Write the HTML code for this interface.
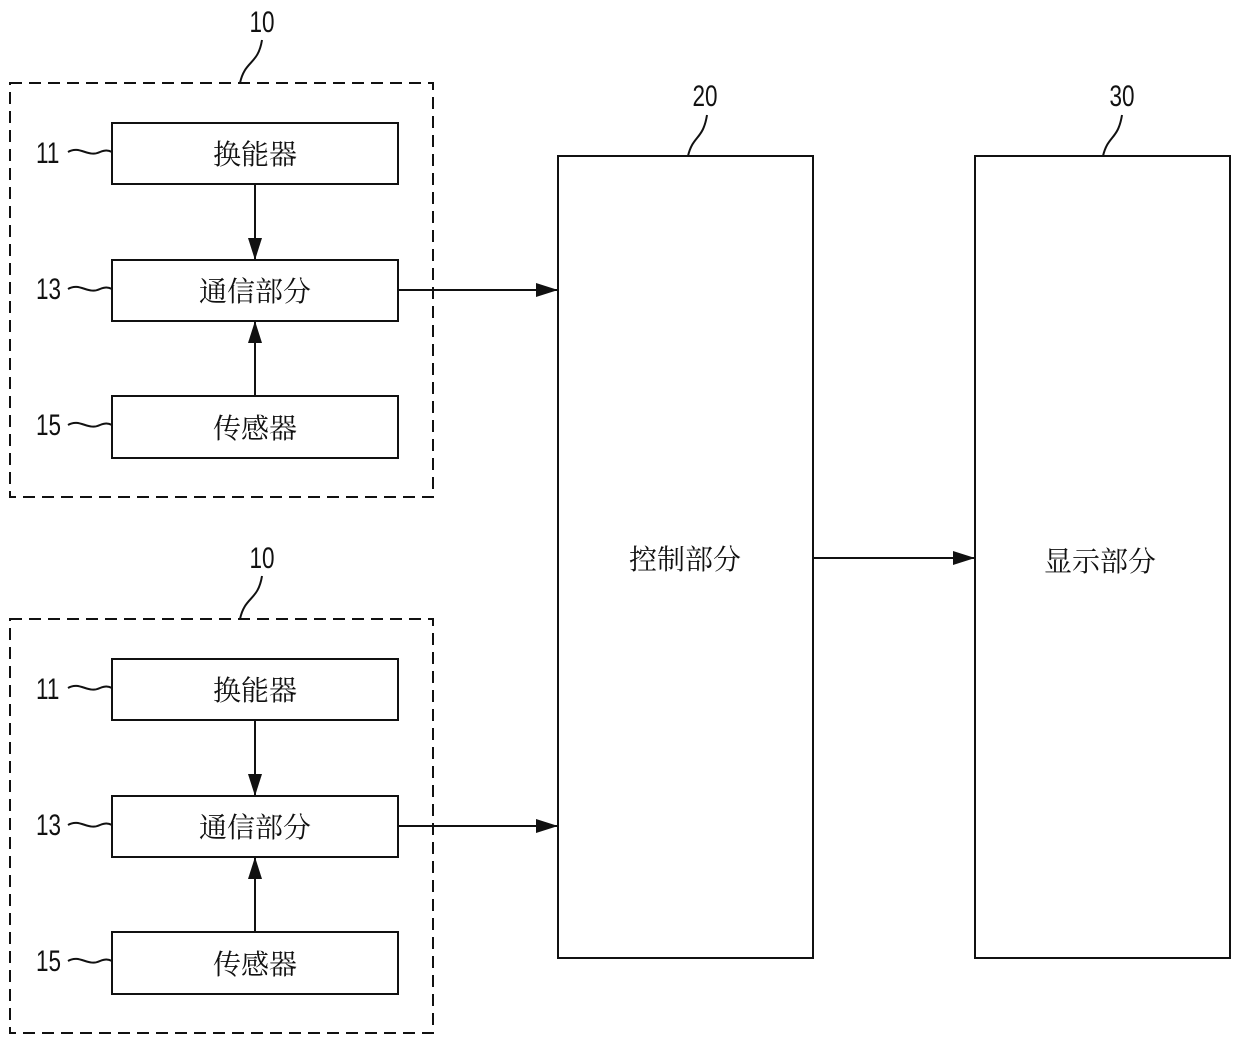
<!DOCTYPE html>
<html><head><meta charset="utf-8"><style>
html,body{margin:0;padding:0;background:#fff;}
svg text{font-family:"Liberation Sans","Noto Sans CJK SC",sans-serif;fill:#111;}
.cn{font-size:28px;font-family:"Noto Serif CJK SC","Noto Sans CJK SC",serif;}
.num{font-size:30px;}
</style></head><body>
<svg width="1240" height="1043" viewBox="0 0 1240 1043" xmlns="http://www.w3.org/2000/svg">
<defs><marker id="a" markerWidth="22" markerHeight="14" refX="22" refY="7" orient="auto" markerUnits="userSpaceOnUse"><path d="M0,0 L22,7 L0,14 z" fill="#111"/></marker></defs>
<g stroke="#111" fill="none" stroke-width="2">
<g id="grp">
<rect x="10" y="83" width="423" height="414" stroke-dasharray="12,7"/>
<path d="M240,83 C245,60 258,65 262,40"/>
<rect x="112" y="123" width="286" height="61"/>
<rect x="112" y="260" width="286" height="61"/>
<rect x="112" y="396" width="286" height="62"/>
<line x1="255" y1="184" x2="255" y2="260" marker-end="url(#a)"/>
<line x1="255" y1="396" x2="255" y2="321" marker-end="url(#a)"/>
<line x1="398" y1="290" x2="558" y2="290" marker-end="url(#a)"/>
<path d="M68,152 C80,145 88,158 100,152 C105,150 108,150 112,152"/>
<path d="M68,289 C80,282 88,295 100,289 C105,287 108,287 112,289"/>
<path d="M68,425 C80,418 88,431 100,425 C105,423 108,423 112,425"/>
</g>
<use href="#grp" y="536"/>
<rect x="558" y="156" width="255" height="802"/>
<rect x="975" y="156" width="255" height="802"/>
<line x1="813" y1="558" x2="975" y2="558" marker-end="url(#a)"/>
<path d="M688,156 C693,135 703,140 707,115"/>
<path d="M1103,156 C1108,135 1118,140 1122,115"/>
</g>
<g text-anchor="middle">
<text class="num" x="262" y="32" transform="translate(262 0) scale(0.75 1) translate(-262 0)">10</text>
<text class="num" x="262" y="568" transform="translate(262 0) scale(0.75 1) translate(-262 0)">10</text>
<text class="num" x="705" y="106" transform="translate(705 0) scale(0.75 1) translate(-705 0)">20</text>
<text class="num" x="1122" y="106" transform="translate(1122 0) scale(0.75 1) translate(-1122 0)">30</text>
<text class="cn" x="255" y="164">换能器</text>
<text class="cn" x="255" y="301">通信部分</text>
<text class="cn" x="255" y="438">传感器</text>
<text class="cn" x="255" y="700">换能器</text>
<text class="cn" x="255" y="837">通信部分</text>
<text class="cn" x="255" y="974">传感器</text>
<text class="cn" x="685" y="569">控制部分</text>
<text class="cn" x="1100" y="571">显示部分</text>
</g>
<g class="num">
<text class="num" x="36" y="163" transform="translate(36 0) scale(0.75 1) translate(-36 0)">11</text>
<text class="num" x="36" y="299" transform="translate(36 0) scale(0.75 1) translate(-36 0)">13</text>
<text class="num" x="36" y="435" transform="translate(36 0) scale(0.75 1) translate(-36 0)">15</text>
<text class="num" x="36" y="699" transform="translate(36 0) scale(0.75 1) translate(-36 0)">11</text>
<text class="num" x="36" y="835" transform="translate(36 0) scale(0.75 1) translate(-36 0)">13</text>
<text class="num" x="36" y="971" transform="translate(36 0) scale(0.75 1) translate(-36 0)">15</text>
</g>
</svg>
</body></html>
